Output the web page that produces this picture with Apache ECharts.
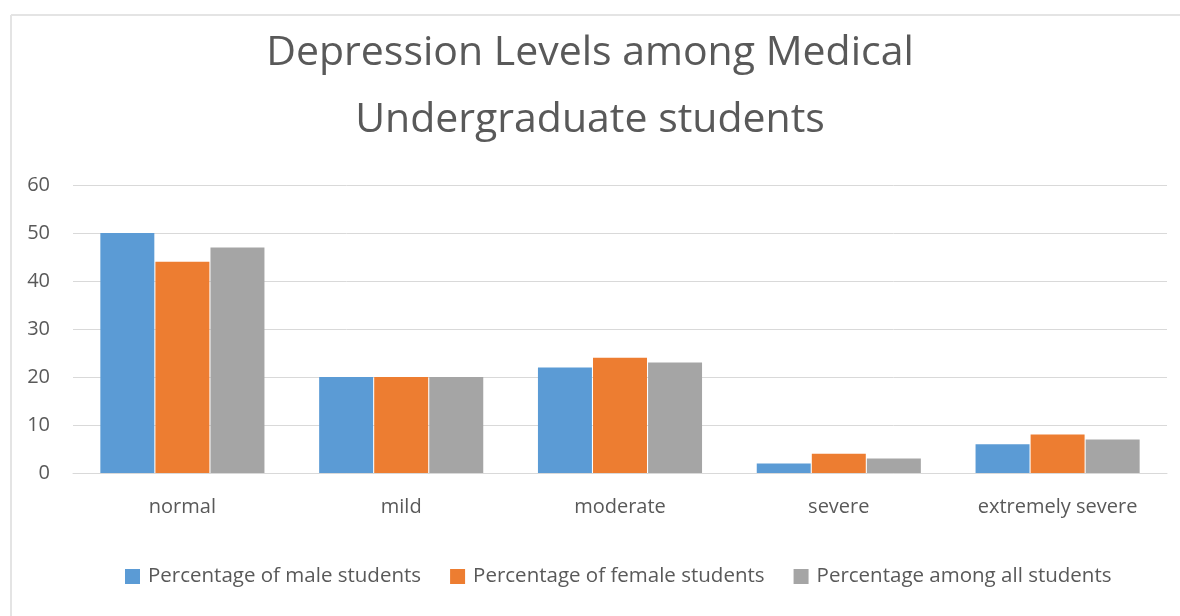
<!DOCTYPE html>
<html>
<head>
<meta charset="utf-8">
<script src="https://cdn.jsdelivr.net/npm/echarts@6/dist/echarts.min.js"></script>
<style>
  html, body { margin: 0; padding: 0; background: #fff; }
  #chart { width: 1180px; height: 616px; }
</style>
</head>
<body>
<div id="chart"></div>
<script>
// Depression levels (DASS categories) by gender, in percent
const categories = ['normal', 'mild', 'moderate', 'severe', 'extremely severe'];
const maleValues = [50, 20, 22, 2, 6];
const femaleValues = [44, 20, 24, 4, 8];
const allValues = [47, 20, 23, 3, 7];
const seriesNames = [
  'Percentage of male students',
  'Percentage of female students',
  'Percentage among all students'
];
const yTicks = { min: 0, max: 60, interval: 10 };

const textColor = '#595959';
const fontFamily = '"Open Sans", "Noto Sans", sans-serif';

const chart = echarts.init(document.getElementById('chart'));
chart.setOption({
  animation: false,
  backgroundColor: '#ffffff',
  color: ['#5B9BD5', '#ED7D31', '#A5A5A5'],
  graphic: [
    { type: 'line', shape: { x1: 11, y1: 15, x2: 11, y2: 616 }, style: { stroke: '#e4e4e4', lineWidth: 2 } },
    { type: 'line', shape: { x1: 11, y1: 15, x2: 1180, y2: 15 }, style: { stroke: '#e4e4e4', lineWidth: 2 } }
  ],
  title: {
    text: 'Depression Levels among Medical\nUndergraduate students',
    left: 'center',
    top: 15,
    textStyle: {
      color: textColor,
      fontFamily: fontFamily,
      fontWeight: 'normal',
      fontSize: 41,
      lineHeight: 67
    }
  },
  legend: {
    bottom: 24,
    left: 120,
    itemWidth: 15,
    itemHeight: 15,
    itemGap: 29,
    icon: 'rect',
    textStyle: { color: textColor, fontFamily: fontFamily, fontSize: 20.5, padding: [0, 0, 0, 3] },
    data: seriesNames
  },
  grid: { left: 73, right: 13, top: 185, bottom: 143, containLabel: false },
  xAxis: {
    type: 'category',
    data: categories,
    axisLine: { lineStyle: { color: '#d9d9d9', width: 1 } },
    axisTick: { show: false },
    axisLabel: { color: textColor, fontFamily: fontFamily, fontSize: 20, margin: 24 }
  },
  yAxis: {
    type: 'value',
    min: yTicks.min,
    max: yTicks.max,
    interval: yTicks.interval,
    axisLine: { show: false },
    axisTick: { show: false },
    splitLine: { lineStyle: { color: '#d9d9d9', width: 1 } },
    axisLabel: { color: textColor, fontFamily: fontFamily, fontSize: 20, margin: 23 }
  },
  series: [
    { name: seriesNames[0], type: 'bar', data: maleValues, barGap: '2%', barCategoryGap: '25%' },
    { name: seriesNames[1], type: 'bar', data: femaleValues, barGap: '2%', barCategoryGap: '25%' },
    { name: seriesNames[2], type: 'bar', data: allValues, barGap: '2%', barCategoryGap: '25%' }
  ]
});
</script>
</body>
</html>
